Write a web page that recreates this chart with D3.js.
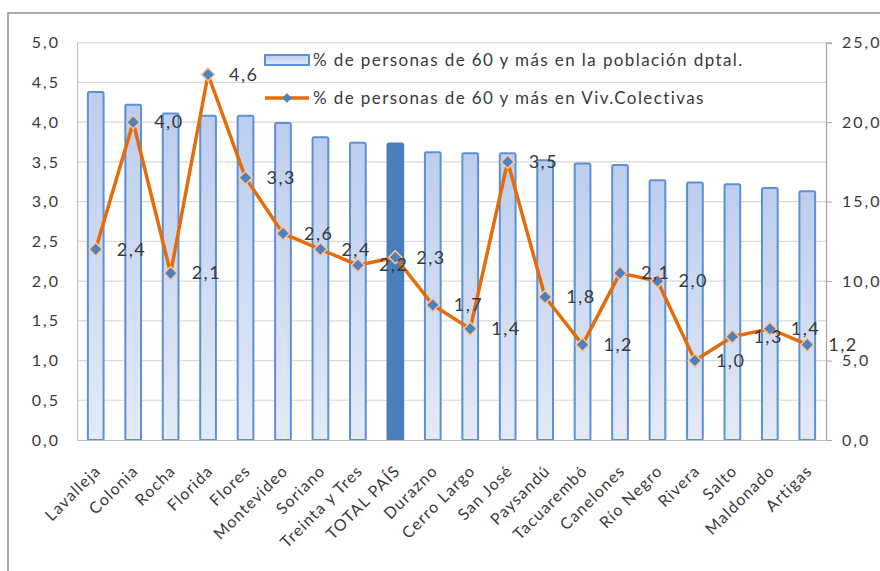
<!DOCTYPE html>
<html>
<head>
<meta charset="utf-8">
<script src="https://cdn.jsdelivr.net/npm/d3@7/dist/d3.min.js"></script>
<style>
  body { margin: 0; background: #fff; }
  svg { display: block; font-family: Lato, "Open Sans", sans-serif; }
</style>
</head>
<body>
<div id="chart"></div>
<script>
// categories and values
var categories = ["Lavalleja", "Colonia", "Rocha", "Florida", "Flores", "Montevideo", "Soriano",
  "Treinta y Tres", "TOTAL PAÍS", "Durazno", "Cerro Largo", "San José", "Paysandú", "Tacuarembó",
  "Canelones", "Río Negro", "Rivera", "Salto", "Maldonado", "Artigas"];
var poblacion = [4.38, 4.22, 4.11, 4.08, 4.08, 3.99, 3.81, 3.74, 3.73, 3.62, 3.61, 3.61, 3.52, 3.48,
  3.46, 3.27, 3.24, 3.22, 3.17, 3.13];
var colectivas = [2.4, 4.0, 2.1, 4.6, 3.3, 2.6, 2.4, 2.2, 2.3, 1.7, 1.4, 3.5, 1.8, 1.2,
  2.1, 2.0, 1.0, 1.3, 1.4, 1.2];
var leftTicks = [0, 0.5, 1, 1.5, 2, 2.5, 3, 3.5, 4, 4.5, 5];
var rightTicks = [0, 5, 10, 15, 20, 25];
var seriesNames = ["% de personas de 60 y más en la población dptal.",
  "% de personas de 60 y más en Viv.Colectivas"];

var W = 880, H = 571;
var plot = {l: 77, r: 826, t: 42.7, b: 440};
var fmt = function (v) { return d3.format(".1f")(v).replace(".", ","); };
var txtColor = "#3a3a3a";

var svg = d3.select("#chart").append("svg").attr("width", W).attr("height", H);
svg.append("rect").attr("width", W).attr("height", H).attr("fill", "#fff");

var defs = svg.append("defs");
var grad = defs.append("linearGradient").attr("id", "barGrad")
  .attr("x1", 0).attr("y1", 0).attr("x2", 0).attr("y2", 1);
grad.append("stop").attr("offset", "0%").attr("stop-color", "#bccdee");
grad.append("stop").attr("offset", "100%").attr("stop-color", "#e4eaf7");

// outer chart border (only top/left visible)
svg.append("path").attr("d", "M8," + H + "V13H" + W)
  .attr("fill", "none").attr("stroke", "#8e8e8e").attr("stroke-width", 1.5);

var x = d3.scaleBand().domain(categories).range([plot.l, plot.r]).paddingInner(0.58).paddingOuter(0.29);
var y = d3.scaleLinear().domain([0, 5]).range([plot.b, plot.t]);
var y2 = d3.scaleLinear().domain([0, 25]).range([plot.b, plot.t]);
var cx = function (c) { return x(c) + x.bandwidth() / 2; };

// gridlines
svg.append("g").selectAll("line").data(leftTicks.slice(1)).join("line")
  .attr("x1", plot.l).attr("x2", plot.r)
  .attr("y1", function (d) { return y(d); }).attr("y2", function (d) { return y(d); })
  .attr("stroke", "#d9d9d9").attr("stroke-width", 1.2);

// left axis
var gl = svg.append("g").attr("transform", "translate(" + plot.l + ",0)")
  .call(d3.axisLeft(y).tickValues(leftTicks).tickFormat(fmt).tickSize(0).tickPadding(17));
gl.select(".domain").attr("stroke", "#bfbfbf").attr("stroke-width", 1.2);
gl.selectAll("text").attr("font-size", 16).attr("fill", txtColor).attr("letter-spacing", 2)
  .attr("font-family", "Lato, 'Open Sans', sans-serif");

// right axis
var gr = svg.append("g").attr("transform", "translate(" + plot.r + ",0)")
  .call(d3.axisRight(y2).tickValues(rightTicks).tickFormat(fmt).tickSize(6).tickPadding(10));
gr.select(".domain").attr("stroke", "#a6a6a6").attr("stroke-width", 1.2);
gr.selectAll("line").attr("stroke", "#a6a6a6");
gr.selectAll("text").attr("font-size", 16).attr("fill", txtColor).attr("letter-spacing", 2)
  .attr("font-family", "Lato, 'Open Sans', sans-serif");

// bars
svg.append("g").selectAll("rect").data(categories).join("rect")
  .attr("x", function (c) { return x(c); })
  .attr("y", function (c, i) { return y(poblacion[i]); })
  .attr("width", x.bandwidth())
  .attr("height", function (c, i) { return plot.b - y(poblacion[i]); })
  .attr("rx", 1.5)
  .attr("fill", function (c) { return c === "TOTAL PAÍS" ? "#4a7ebb" : "url(#barGrad)"; })
  .attr("stroke", function (c) { return c === "TOTAL PAÍS" ? "#4a7ebb" : "#5c91d8"; })
  .attr("stroke-width", 2);

// bottom axis line + rotated category labels
var gb = svg.append("g").attr("transform", "translate(0," + plot.b + ")")
  .call(d3.axisBottom(x).tickSize(0).tickPadding(0));
gb.select(".domain").attr("stroke", "#bfbfbf").attr("stroke-width", 1.2);
gb.selectAll("text")
  .attr("font-size", 16).attr("fill", txtColor).attr("letter-spacing", 1.2)
  .attr("font-family", "Lato, 'Open Sans', sans-serif")
  .attr("text-anchor", "end")
  .attr("dy", "0.35em")
  .attr("transform", "translate(2,28) rotate(-45)");

// line
var line = d3.line().x(function (c) { return cx(c); })
  .y(function (c, i) { return y(colectivas[i]); });
svg.append("path").datum(categories).attr("d", line)
  .attr("fill", "none").attr("stroke", "#e56c0b").attr("stroke-width", 3.5)
  .attr("stroke-linejoin", "round");

var diamond = d3.symbol().type(d3.symbolDiamond2).size(110);
svg.append("g").selectAll("path").data(categories).join("path")
  .attr("d", diamond)
  .attr("transform", function (c, i) { return "translate(" + cx(c) + "," + y(colectivas[i]) + ")"; })
  .attr("fill", "#4f81bd").attr("stroke", "#f9c596").attr("stroke-width", 1.5);

// data labels
svg.append("g").selectAll("text").data(categories).join("text")
  .attr("x", function (c) { return cx(c) + 21; })
  .attr("y", function (c, i) { return y(colectivas[i]); })
  .attr("dy", "0.35em")
  .attr("font-size", 18).attr("letter-spacing", 1.5).attr("fill", txtColor)
  .text(function (c, i) { return fmt(colectivas[i]); });

// legend
var lg = svg.append("g").attr("transform", "translate(265,0)");
lg.append("rect").attr("x", 0).attr("y", 55).attr("width", 44).attr("height", 10)
  .attr("fill", "url(#barGrad)").attr("stroke", "#5c91d8").attr("stroke-width", 2);
lg.append("line").attr("x1", 0).attr("x2", 44).attr("y1", 98).attr("y2", 98)
  .attr("stroke", "#e56c0b").attr("stroke-width", 3.5);
lg.append("path").attr("d", d3.symbol().type(d3.symbolDiamond2).size(60))
  .attr("transform", "translate(22,98)").attr("fill", "#4f81bd");
lg.selectAll("text").data(seriesNames).join("text")
  .attr("x", 48).attr("y", function (d, i) { return i ? 98 : 60; })
  .attr("dy", "0.35em").attr("font-size", 17).attr("letter-spacing", 1.4).attr("fill", txtColor)
  .text(function (d) { return d; });
</script>
</body>
</html>
